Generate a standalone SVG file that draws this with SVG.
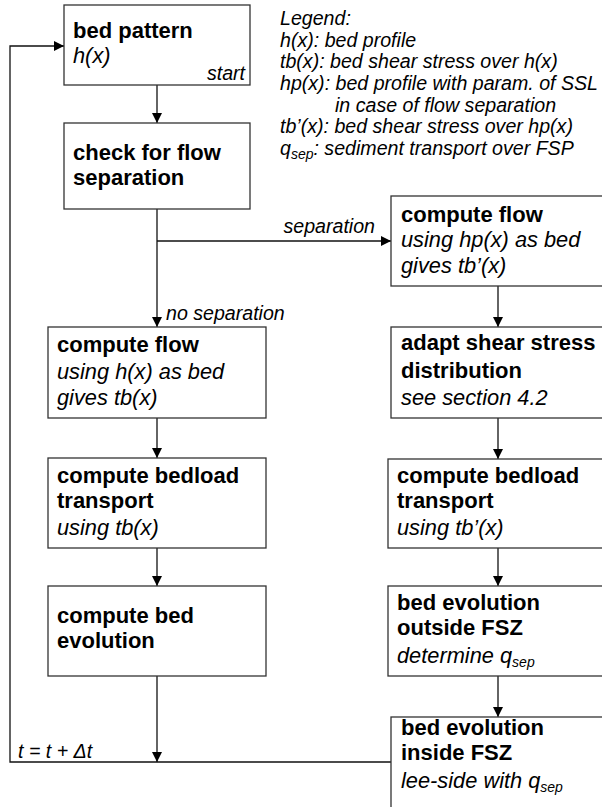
<svg xmlns="http://www.w3.org/2000/svg" width="602" height="807" viewBox="0 0 602 807">
<defs>
<style>
.box{fill:#fff;stroke:#333;stroke-width:1.3}
.ln{fill:none;stroke:#111;stroke-width:1.3}
.b{font-family:"Liberation Sans",Arial,sans-serif;font-weight:bold;font-size:22px;fill:#000}
.i{font-family:"Liberation Sans",Arial,sans-serif;font-style:italic;font-size:21.8px;fill:#000}
.s{font-family:"Liberation Sans",Arial,sans-serif;font-style:italic;font-size:19.6px;fill:#000}
.sub{font-size:14px}
</style>
<marker id="ah" viewBox="0 0 10 10" refX="10" refY="5" markerWidth="10" markerHeight="10" markerUnits="userSpaceOnUse" orient="auto">
<path d="M0,0 L10,5 L0,10 z" fill="#000"/>
</marker>
</defs>
<rect width="602" height="807" fill="#fff"/>

<g id="connectors">
<path class="ln" d="M157,85 V123" marker-end="url(#ah)"/>
<path class="ln" d="M157,209 V327" marker-end="url(#ah)"/>
<path class="ln" d="M157,241 H391" marker-end="url(#ah)"/>
<path class="ln" d="M157,418 V458" marker-end="url(#ah)"/>
<path class="ln" d="M157,548 V586" marker-end="url(#ah)"/>
<path class="ln" d="M157,676 V762" marker-end="url(#ah)"/>
<path class="ln" d="M391,762 H10 V46 H64" marker-end="url(#ah)"/>
<path class="ln" d="M498,286 V327" marker-end="url(#ah)"/>
<path class="ln" d="M498,418 V459" marker-end="url(#ah)"/>
<path class="ln" d="M498,548 V586" marker-end="url(#ah)"/>
<path class="ln" d="M498,676 V717" marker-end="url(#ah)"/>
<text class="s" x="375" y="233" text-anchor="end">separation</text>
<text class="s" x="166" y="320">no separation</text>
<text class="s" x="18" y="758">t = t + Δt</text>
</g>

<g id="legend">
<text class="s" x="280" y="25">Legend:</text>
<text class="s" x="280" y="47">h(x): bed profile</text>
<text class="s" x="280" y="68">tb(x): bed shear stress over h(x)</text>
<text class="s" x="280" y="90">hp(x): bed profile with param. of SSL</text>
<text class="s" x="335" y="112">in case of flow separation</text>
<text class="s" x="280" y="133">tb’(x): bed shear stress over hp(x)</text>
<text class="s" x="280" y="155">q<tspan class="sub" dy="4">sep</tspan><tspan dy="-4">: sediment transport over FSP</tspan></text>
</g>

<g id="bed-pattern">
<rect class="box" x="64" y="5" width="186" height="80"/>
<text class="b" x="73" y="38">bed pattern</text>
<text class="i" x="73" y="63">h(x)</text>
<text class="s" x="245" y="80" text-anchor="end">start</text>
</g>

<g id="check-separation">
<rect class="box" x="64" y="123" width="186" height="86"/>
<text class="b" x="73" y="160">check for flow</text>
<text class="b" x="73" y="185">separation</text>
</g>

<g id="compute-flow-left">
<rect class="box" x="48" y="327" width="218" height="91"/>
<text class="b" x="57" y="352">compute flow</text>
<text class="i" x="57" y="379">using h(x) as bed</text>
<text class="i" x="57" y="405">gives tb(x)</text>
</g>

<g id="compute-bedload-left">
<rect class="box" x="48" y="458" width="218" height="90"/>
<text class="b" x="57" y="483">compute bedload</text>
<text class="b" x="57" y="508">transport</text>
<text class="i" x="57" y="535">using tb(x)</text>
</g>

<g id="compute-bed-evolution">
<rect class="box" x="48" y="586" width="218" height="90"/>
<text class="b" x="57" y="623">compute bed</text>
<text class="b" x="57" y="648">evolution</text>
</g>

<g id="compute-flow-right">
<rect class="box" x="391" y="196" width="230" height="90"/>
<text class="b" x="401" y="222">compute flow</text>
<text class="i" x="401" y="247">using hp(x) as bed</text>
<text class="i" x="401" y="273">gives tb’(x)</text>
</g>

<g id="adapt-shear-stress">
<rect class="box" x="391" y="327" width="230" height="91"/>
<text class="b" x="401" y="350">adapt shear stress</text>
<text class="b" x="401" y="378">distribution</text>
<text class="i" x="401" y="405">see section 4.2</text>
</g>

<g id="compute-bedload-right">
<rect class="box" x="388" y="459" width="233" height="89"/>
<text class="b" x="397" y="483">compute bedload</text>
<text class="b" x="397" y="508">transport</text>
<text class="i" x="397" y="535">using tb’(x)</text>
</g>

<g id="bed-evolution-outside">
<rect class="box" x="388" y="586" width="233" height="90"/>
<text class="b" x="397" y="610">bed evolution</text>
<text class="b" x="397" y="635">outside FSZ</text>
<text class="i" x="397" y="663">determine q<tspan class="sub" dy="4">sep</tspan></text>
</g>

<g id="bed-evolution-inside">
<rect class="box" x="391" y="717" width="230" height="110"/>
<text class="b" x="401" y="735">bed evolution</text>
<text class="b" x="401" y="760">inside FSZ</text>
<text class="i" x="401" y="788">lee-side with q<tspan class="sub" dy="4">sep</tspan></text>
</g>
</svg>
